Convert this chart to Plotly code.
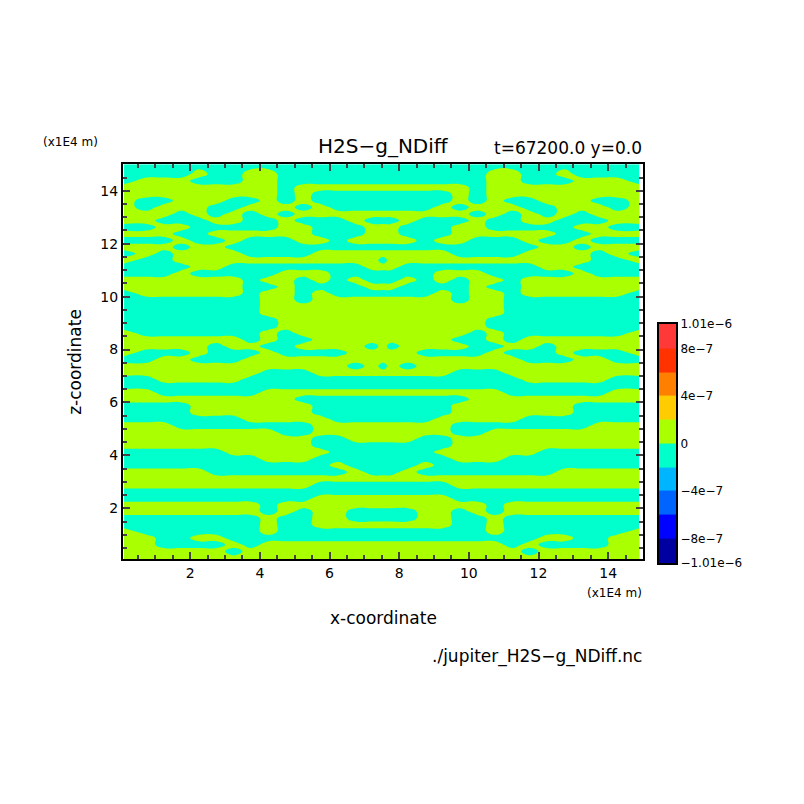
import plotly.graph_objects as go

# left half of field (x = 0.25..7.25) + centre column (x=7.5); 'g' = +1e-7, 'c' = -1e-7
# rows from z=14.875 down to z=0.125 in 0.25 steps
half_rows = [
 "cccccccccccccccc","ccccgccggccccccc","cgggcccggccccccc","gggggggggcgggggg",
 "gggggggggcgccccc","gccgggccgcgccccc","gcgggccgggcgcccc","gggcgcgcgcgggggg",
 "ggcccggccgcccgcc","ccggcccccggcccgg","gggccggggggcccgg","cccgccgcccggcggg",
 "gggcggcccccccccc","cgcggggccccggggg","gccggggggggggggc","ccccggccccccccgg",
 "cccgcccccgggcccc","gggggggcggcgcgcc","gggggggccgccccgg","cggggggcggcgcccc",
 "ccccccccggcggggg","ccccccccgggggggg","ccccccccgggggggg","cccccccccggggggg",
 "cccccccccggggggg","gcccccccgcgggggg","gggggggcgccggggg","gggggcggccggggcg",
 "gcccgcccgccccggg","ccggcccggggggggg",
 "gggggggggggggcgc","ggggggggcccggggg","ccgggggccccccccc","cccccccccccccccc",
 "ggccccccgggggggg","ggggggggggcccccc","ccccgggggggccccc","ccccgggggggccccc",
 "cccccccgggggcccc","gggccccccccggggg","gggggggggccggggg","gggggggggggccggg",
 "gggggggggggccccc","ccccccggggggcccc","ccccccccgggccccc","ccccccccccccgccc",
 "gggggccccccccgcc","gggggggggggggggg","gggggggggggccccc","cccccccccccccccc",
 "cccccccccccggggg","ggggggggcggggggg","ggggggggcgcggccc","ccccccccgccggccc",
 "ccccccccgccggggg","gcccccccgccccccc","ggccggcccccccccc","ggccccgcgggggggg",
 "ggggggcggggggggg","gggggggggggggggg",
]
z_centres = [14.875 - 0.25 * i for i in range(60)]
x_half = [0.1, 0.75, 1.25, 1.75, 2.25, 2.75, 3.25, 3.75, 4.25, 4.75, 5.25, 5.75, 6.25, 6.75, 7.25, 7.55]
x_coords = x_half + [15.0 - v for v in reversed(x_half[:-1])]
z_coords = [15.0] + z_centres[1:-1] + [0.07]

val = {"g": 1e-7, "c": -1e-7}
field = []
for r in reversed(half_rows):
    h = [val[ch] for ch in r[:16]]
    field.append(h + list(reversed(h[:15])))
z_axis = list(reversed(z_coords))

cb_levels = [-9.05e-7, -7e-7, -5e-7, -3e-7, -1e-7, 1e-7, 3e-7, 5e-7, 7e-7, 9.05e-7]
cb_colors = ["#0000a0", "#0000ff", "#0064ff", "#00b4ff", "#00ffcc",
             "#aaff00", "#ffcc00", "#ff7f00", "#ff3000", "#ff3838"]
cb_ticks = [-1.01e-6, -8e-7, -4e-7, 0, 4e-7, 8e-7, 1.01e-6]
cb_labels = ["−1.01e−6", "−8e−7", "−4e−7", "0", "4e−7", "8e−7", "1.01e−6"]

fig = go.Figure()
fig.add_trace(go.Contour(
    x=x_coords, y=z_axis, z=field, zmin=-1e-7, zmax=1e-7,
    contours=dict(start=0, end=0, size=1, coloring="fill"),
    colorscale=[[0, "#00ffcc"], [0.5, "#00ffcc"], [0.5, "#aaff00"], [1, "#aaff00"]],
    line=dict(width=0, smoothing=1.3), showscale=False, xaxis="x", yaxis="y"))

edges = [-1.01e-6, -8e-7, -6e-7, -4e-7, -2e-7, 0, 2e-7, 4e-7, 6e-7, 8e-7, 1.01e-6]
n = len(cb_colors)
fig.add_trace(go.Heatmap(
    x=[0, 1], y=edges, z=[[v] for v in cb_levels],
    colorscale=[[i / (n - 1), c] for i, c in enumerate(cb_colors)],
    zmin=cb_levels[0], zmax=cb_levels[-1], showscale=False, xaxis="x2", yaxis="y2"))

W = 804.0
DX, DY = 7, 8  # page offset compensation
def px(x): return (x - DX) / W
def py(y): return 1 - (y - DY) / W

font = "DejaVu Sans"
fig.update_layout(
    width=804, height=804, margin=dict(l=0, r=0, t=0, b=0),
    paper_bgcolor="white", plot_bgcolor="white", showlegend=False,
    font=dict(family=font, color="black", size=14),
    xaxis=dict(domain=[px(122), px(642)], range=[0.07, 15], tickvals=[2, 4, 6, 8, 10, 12, 14],
               ticks="inside", ticklen=7, tickwidth=2, showline=True, linewidth=2, linecolor="black",
               mirror="allticks", showgrid=False, zeroline=False,
               minor=dict(ticks="inside", ticklen=4, dtick=0.5, tick0=0, showgrid=False), anchor="y"),
    yaxis=dict(domain=[py(562), py(160)], range=[0.07, 15], tickvals=[2, 4, 6, 8, 10, 12, 14],
               ticks="inside", ticklen=7, tickwidth=2, showline=True, linewidth=2, linecolor="black",
               mirror="allticks", showgrid=False, zeroline=False,
               minor=dict(ticks="inside", ticklen=4, dtick=0.5, tick0=0, showgrid=False), anchor="x"),
    xaxis2=dict(domain=[px(658), px(675)], range=[0, 1], showticklabels=False, ticks="",
                showline=True, linewidth=2, linecolor="black", mirror=True, showgrid=False,
                zeroline=False, anchor="y2"),
    yaxis2=dict(domain=[py(566), py(322)], range=[-1.01e-6, 1.01e-6], side="right",
                tickvals=cb_ticks, ticktext=cb_labels, ticks="", showline=True, linewidth=2,
                linecolor="black", mirror=True, showgrid=False, zeroline=False, anchor="x2",
                tickfont=dict(size=12)),
)

def ann(text, x, y, size, xanchor="center", angle=0):
    fig.add_annotation(text=text, x=px(x), y=py(y), xref="paper", yref="paper",
                       showarrow=False, font=dict(size=size, family=font),
                       xanchor=xanchor, yanchor="middle", textangle=angle)

ann("H2S−g_NDiff", 382, 141, 20)
ann("t=67200.0 y=0.0", 643, 143, 17, "right")
ann("(x1E4 m)", 40, 137, 12, "left")
ann("(x1E4 m)", 643, 596, 12, "right")
ann("x-coordinate", 382, 622, 17)
ann("z-coordinate", 74, 361, 17, angle=-90)
ann("./jupiter_H2S−g_NDiff.nc", 643, 661, 17, "right")

fig.write_html("out.html")
